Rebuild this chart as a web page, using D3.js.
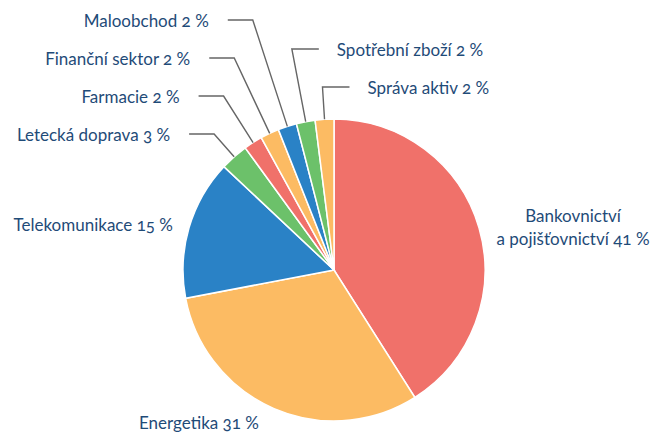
<!DOCTYPE html>
<html>
<head>
<meta charset="utf-8">
<script src="https://cdn.jsdelivr.net/npm/d3@7"></script>
<style>
  body { margin: 0; background: #fff; }
  svg text { font-family: Lato, "Open Sans", sans-serif; font-size: 17px; fill: #1f4b78; font-variant-numeric: oldstyle-nums; }
</style>
</head>
<body>
<div id="chart"></div>
<script>
const categories = ["Bankovnictví a pojišťovnictví", "Energetika", "Telekomunikace", "Letecká doprava",
  "Farmacie", "Finanční sektor", "Maloobchod", "Spotřební zboží", "Správa aktiv"];
const values = [41, 31, 15, 3, 2, 2, 2, 2, 2];
const colors = ["#f0716a", "#fcbb63", "#2a82c6", "#6cc16a", "#f0716a", "#fcbb63", "#2a82c6", "#6cc16a", "#fcbb63"];

const width = 656, height = 432;
const cx = 334, cy = 270, radius = 151;

// label placement: leader labels get a y level and side, big slices get a fixed anchor
const leaderY = { "Letecká doprava": 134, "Farmacie": 96, "Finanční sektor": 58, "Maloobchod": 20,
  "Spotřební zboží": 49, "Správa aktiv": 87 };
const rightSide = ["Spotřební zboží", "Správa aktiv"];
const fixedLabels = {
  "Bankovnictví a pojišťovnictví": { x: 573, y: 222, anchor: "middle", lines: ["Bankovnictví", "a pojišťovnictví 41 %"] },
  "Energetika": { x: 139, y: 429, anchor: "start" },
  "Telekomunikace": { x: 173, y: 231, anchor: "end" }
};

const svg = d3.select("#chart").append("svg")
  .attr("width", width)
  .attr("height", height);

const data = categories.map((c, i) => ({ name: c, value: values[i], color: colors[i] }));

const pie = d3.pie().sort(null).value(d => d.value);
const arcs = pie(data);
const arc = d3.arc().innerRadius(0).outerRadius(radius);

const g = svg.append("g").attr("transform", `translate(${cx},${cy})`);

g.selectAll("path")
  .data(arcs)
  .join("path")
  .attr("d", arc)
  .attr("fill", d => d.data.color)
  .attr("stroke", "#fff")
  .attr("stroke-width", 1.5);

arcs.forEach(d => {
  const name = d.data.name;
  const mid = (d.startAngle + d.endAngle) / 2;
  if (leaderY[name] !== undefined) {
    const sx = radius * Math.sin(mid), sy = -radius * Math.cos(mid);
    const ey = leaderY[name] - cy;
    const ex = sx * ey / sy;
    const left = !rightSide.includes(name);
    const hx = left ? ex - 25 : ex + 27;
    g.append("polyline")
      .attr("points", [[sx, sy], [ex, ey], [hx, ey]].map(p => p.join(",")).join(" "))
      .attr("fill", "none")
      .attr("stroke", "#666")
      .attr("stroke-width", 1.4);
    g.append("text")
      .attr("x", left ? hx - 19 : hx + 18)
      .attr("y", ey)
      .attr("dy", "0.42em")
      .attr("text-anchor", left ? "end" : "start")
      .text(`${name} ${d.data.value} %`);
  } else {
    const f = fixedLabels[name];
    const t = svg.append("text")
      .attr("x", f.x)
      .attr("y", f.y)
      .attr("text-anchor", f.anchor);
    const lines = f.lines || [`${name} ${d.data.value} %`];
    lines.forEach((l, i) => {
      t.append("tspan").attr("x", f.x).attr("dy", i === 0 ? 0 : 23).text(l);
    });
  }
});
</script>
</body>
</html>
